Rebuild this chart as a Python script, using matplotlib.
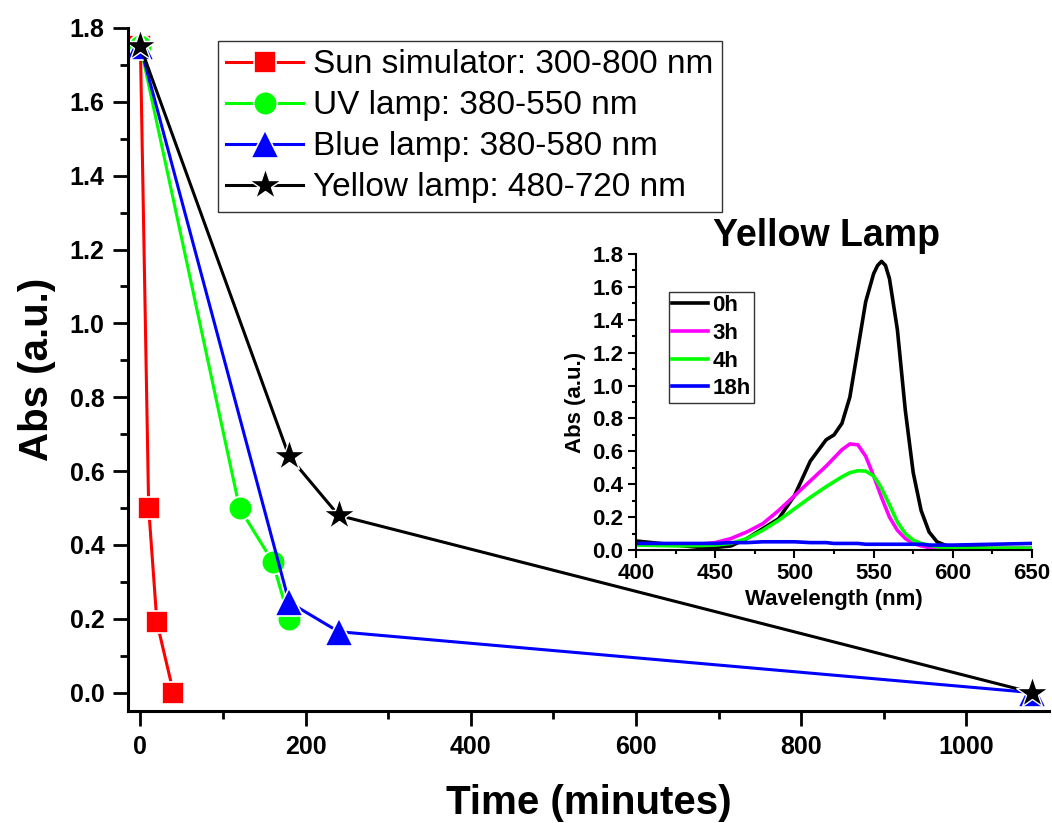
import matplotlib
matplotlib.use("Agg")
import matplotlib.pyplot as plt

plt.rcParams['font.family'] = ['Liberation Sans', 'DejaVu Sans']

# Main panel: absorbance vs irradiation time
sun_t = [0, 10, 20, 40]
sun_abs = [1.75, 0.50, 0.19, 0.0]
uv_t = [0, 120, 160, 180]
uv_abs = [1.75, 0.50, 0.355, 0.20]
blue_t = [0, 180, 240, 1080]
blue_abs = [1.75, 0.245, 0.165, 0.0]
yel_t = [0, 180, 240, 1080]
yel_abs = [1.75, 0.64, 0.48, 0.0]

# Inset: yellow lamp spectra
wl = [400, 425, 440, 450, 460, 470, 480, 490, 500, 510, 520, 525, 530, 535,
      540, 545, 550, 552.5, 555, 557.5, 560, 565, 570, 575, 580, 585, 590, 595, 600, 625, 650]
spec_0h = [0.055, 0.03, 0.016, 0.015, 0.025, 0.07, 0.13, 0.19, 0.33, 0.54, 0.67, 0.70, 0.77, 0.93,
           1.22, 1.51, 1.68, 1.73, 1.755, 1.73, 1.65, 1.34, 0.85, 0.47, 0.24, 0.11, 0.05, 0.03,
           0.015, 0.01, 0.01]
spec_3h = [0.035, 0.03, 0.035, 0.045, 0.07, 0.11, 0.16, 0.24, 0.33, 0.42, 0.51, 0.56, 0.61, 0.645,
           0.64, 0.57, 0.45, 0.385, 0.32, 0.26, 0.20, 0.12, 0.07, 0.04, 0.025, 0.015, 0.01, 0.006,
           0.005, 0.002, 0.0]
spec_4h = [0.03, 0.025, 0.027, 0.03, 0.04, 0.07, 0.12, 0.18, 0.25, 0.32, 0.385, 0.415, 0.445, 0.47,
           0.482, 0.48, 0.45, 0.415, 0.375, 0.325, 0.275, 0.17, 0.10, 0.06, 0.04, 0.03, 0.02, 0.015,
           0.01, 0.01, 0.01]
spec_18h = [0.04, 0.04, 0.04, 0.04, 0.045, 0.045, 0.05, 0.05, 0.05, 0.045, 0.045, 0.04, 0.04, 0.04,
            0.04, 0.035, 0.035, 0.035, 0.035, 0.035, 0.035, 0.035, 0.035, 0.035, 0.035, 0.03, 0.03,
            0.03, 0.03, 0.035, 0.04]

fig = plt.figure(figsize=(10.52, 8.23), dpi=100)
ax = fig.add_axes([0.1217, 0.136, 0.8753, 0.830])

lw = 2.2
ax.plot(sun_t, sun_abs, '-s', color='#ff0000', lw=lw, ms=16, mec='white', mew=1.2,
        label='Sun simulator: 300-800 nm')
ax.plot(uv_t, uv_abs, '-o', color='#00ff00', lw=lw, ms=17, mec='white', mew=1.2,
        label='UV lamp: 380-550 nm')
ax.plot(blue_t, blue_abs, '-^', color='#0000ff', lw=lw, ms=20, mec='white', mew=1.2,
        label='Blue lamp: 380-580 nm')
ax.plot(yel_t, yel_abs, '-*', color='black', lw=lw, ms=24, mec='white', mew=1.0,
        label='Yellow lamp: 480-720 nm')

ax.set_xlim(-15, 1100)
ax.set_ylim(-0.05, 1.8)
ax.set_xticks([0, 200, 400, 600, 800, 1000])
ax.set_xticks(range(100, 1100, 200), minor=True)
ax.set_yticks([0.0, 0.2, 0.4, 0.6, 0.8, 1.0, 1.2, 1.4, 1.6, 1.8])
ax.set_yticks([0.1, 0.3, 0.5, 0.7, 0.9, 1.1, 1.3, 1.5, 1.7], minor=True)
ax.set_yticklabels(['0.0', '0.2', '0.4', '0.6', '0.8', '1.0', '1.2', '1.4', '1.6', '1.8'])
for s in ['top', 'right']:
    ax.spines[s].set_visible(False)
for s in ['left', 'bottom']:
    ax.spines[s].set_linewidth(2.2)
ax.tick_params(which='major', direction='out', length=11, width=2, pad=6, labelsize=18)
ax.tick_params(which='minor', direction='out', length=6, width=2)
for lab in ax.get_xticklabels() + ax.get_yticklabels():
    lab.set_fontweight('bold')

ax.set_xlabel('Time (minutes)', fontsize=29, fontweight='bold', labelpad=18)
ax.set_ylabel('Abs (a.u.)', fontsize=29, fontweight='bold', labelpad=10)

leg = ax.legend(loc='upper left', bbox_to_anchor=(0.0977, 0.981), borderaxespad=0,
                fontsize=24, frameon=True, fancybox=False, edgecolor='black',
                handlelength=2.3, handletextpad=0.3, labelspacing=0.3, borderpad=0.25)
leg.get_frame().set_linewidth(1.0)

# Inset
ins = fig.add_axes([0.6046, 0.3317, 0.3764, 0.3597])
ins.patch.set_alpha(0)
ins.plot(wl, spec_0h, color='black', lw=2.6, label='0h')
ins.plot(wl, spec_3h, color='#ff00ff', lw=2.6, label='3h')
ins.plot(wl, spec_4h, color='#00ff00', lw=2.6, label='4h')
ins.plot(wl, spec_18h, color='#0000ff', lw=2.6, label='18h')
ins.set_xlim(400, 650)
ins.set_ylim(0, 1.8)
ins.set_xticks([400, 450, 500, 550, 600, 650])
ins.set_xticks([425, 475, 525, 575, 625], minor=True)
ins.set_yticks([0.0, 0.2, 0.4, 0.6, 0.8, 1.0, 1.2, 1.4, 1.6, 1.8])
ins.set_yticks([0.1, 0.3, 0.5, 0.7, 0.9, 1.1, 1.3, 1.5, 1.7], minor=True)
ins.set_yticklabels(['0.0', '0.2', '0.4', '0.6', '0.8', '1.0', '1.2', '1.4', '1.6', '1.8'])
for s in ['top', 'right']:
    ins.spines[s].set_visible(False)
for s in ['left', 'bottom']:
    ins.spines[s].set_linewidth(1.5)
ins.tick_params(which='major', direction='out', length=6, width=1.5, pad=3, labelsize=16)
ins.tick_params(which='minor', direction='out', length=3, width=1.5)
for lab in ins.get_xticklabels() + ins.get_yticklabels():
    lab.set_fontweight('bold')
ins.set_xlabel('Wavelength (nm)', fontsize=16, fontweight='bold', labelpad=4)
ins.set_ylabel('Abs (a.u.)', fontsize=16, fontweight='bold', labelpad=5)
ins.set_title('Yellow Lamp', fontsize=27, fontweight='bold', x=0.48, pad=4)

ileg = ins.legend(loc='upper left', bbox_to_anchor=(0.083, 0.872), borderaxespad=0,
                  prop={'size': 16, 'weight': 'bold'}, frameon=True, fancybox=False,
                  edgecolor='black', handlelength=1.6, handletextpad=0.2,
                  labelspacing=0.3, borderpad=0.15)
ileg.get_frame().set_linewidth(1.0)

fig.savefig('out.png', dpi=100)
